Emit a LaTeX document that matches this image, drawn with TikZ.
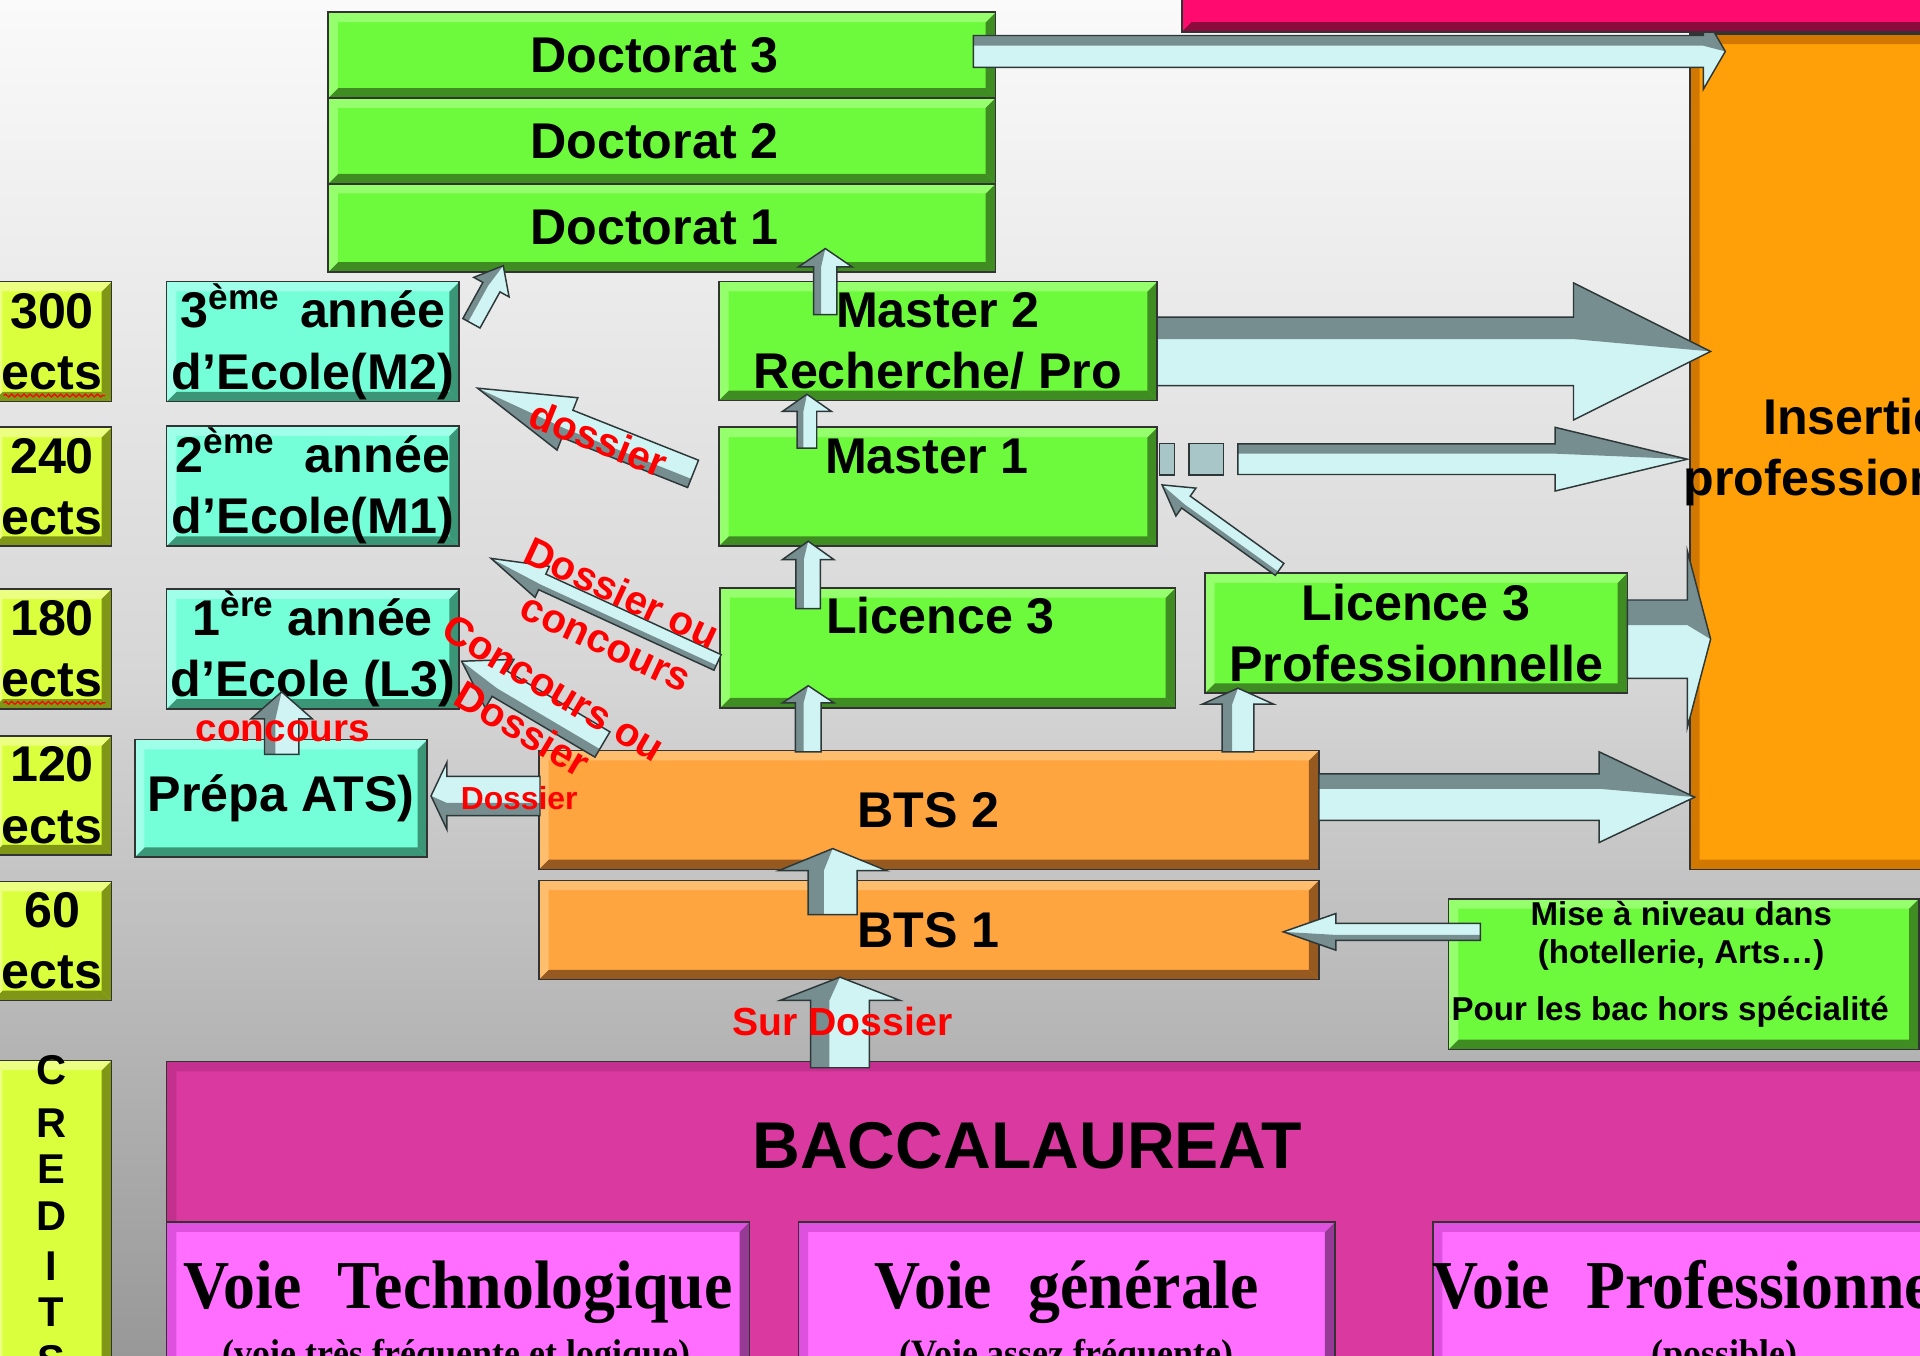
\documentclass[tikz,border=0pt]{standalone}
\usepackage{fontspec}
\setmainfont{Liberation Sans}
\newfontfamily\fser[FakeStretch=0.93]{Liberation Serif}
\usetikzlibrary{calc,decorations.pathmorphing}

\definecolor{bgtop}{RGB}{250,250,250}
\definecolor{bgmid}{RGB}{214,214,214}
\definecolor{bgbot}{RGB}{152,152,152}
\definecolor{gface}{RGB}{110,250,60}
\definecolor{glight}{RGB}{150,255,110}
\definecolor{gdark}{RGB}{62,140,34}
\definecolor{cface}{RGB}{116,255,216}
\definecolor{clight}{RGB}{160,255,232}
\definecolor{cdark}{RGB}{58,150,118}
\definecolor{yface}{RGB}{218,255,60}
\definecolor{ylight}{RGB}{236,255,130}
\definecolor{ydark}{RGB}{128,150,22}
\definecolor{oface}{RGB}{255,165,64}
\definecolor{olight}{RGB}{255,190,110}
\definecolor{odark}{RGB}{150,90,32}
\definecolor{iface}{RGB}{255,160,8}
\definecolor{idark}{RGB}{210,120,0}
\definecolor{mface}{RGB}{218,58,160}
\definecolor{mleft}{RGB}{195,48,142}
\definecolor{mdark}{RGB}{160,36,118}
\definecolor{pface}{RGB}{255,110,255}
\definecolor{pleft}{RGB}{222,80,222}
\definecolor{pdark}{RGB}{150,58,150}
\definecolor{tface}{RGB}{255,10,110}
\definecolor{tdark}{RGB}{140,10,60}
\definecolor{alight}{RGB}{208,244,244}
\definecolor{adark}{RGB}{118,142,144}
\definecolor{aline}{RGB}{45,55,56}
\definecolor{redt}{RGB}{255,0,0}

\tikzset{
  bev/.style n args={3}{rectangle, fill=#1, draw=black!80, line width=0.7pt,
    inner sep=0pt, outer sep=0pt, align=center,
    path picture={
      \path (path picture bounding box.south west) coordinate (pSW)
            (path picture bounding box.north east) coordinate (pNE)
            (path picture bounding box.north west) coordinate (pNW)
            (path picture bounding box.south east) coordinate (pSE);
      \fill[#3] (pSW) -- (pSE) -- ($(pSE)+(-4pt,4pt)$) -- ($(pSW)+(4pt,4pt)$) -- cycle;
      \fill[#3] (pSE) -- (pNE) -- ($(pNE)+(-4pt,-4pt)$) -- ($(pSE)+(-4pt,4pt)$) -- cycle;
      \fill[#2] (pNW) -- (pNE) -- ($(pNE)+(-4pt,-4pt)$) -- ($(pNW)+(4pt,-4pt)$) -- cycle;
      \fill[#2] (pSW) -- (pNW) -- ($(pNW)+(4pt,-4pt)$) -- ($(pSW)+(4pt,4pt)$) -- cycle;
    }},
  bigfont/.style={font=\bfseries\fontsize{20.5}{25}\selectfont},
  boxG/.style={bev={gface}{glight}{gdark}, bigfont},
  boxC/.style={bev={cface}{clight}{cdark}, bigfont},
  boxY/.style={bev={yface}{ylight}{ydark}, bigfont},
  boxO/.style={bev={oface}{olight}{odark}, bigfont},
  boxI/.style={bev={iface}{idark}{idark}, bigfont},
  boxM/.style={bev={mface}{mleft}{mdark}},
  boxP/.style={bev={pface}{pleft}{pdark}},
  boxT/.style={bev={tface}{tface}{tdark}},
  txt/.style={inner sep=0pt, align=center, bigfont},
  redlbl/.style={inner sep=0pt, text=redt, font=\bfseries\fontsize{16.5}{18}\selectfont},
  misetxt/.style={inner sep=0pt, font=\bfseries\fontsize{13.5}{15}\selectfont},
  voie/.style={inner sep=0pt, anchor=base, font=\fser\bfseries\fontsize{28}{30}\selectfont},
  voiesub/.style={inner sep=0pt, anchor=base, font=\fser\bfseries\fontsize{15.8}{17}\selectfont},
  squig/.style={redt, line width=0.5pt, decorate, decoration={snake, amplitude=0.6pt, segment length=2.5pt}},
}

\newcommand{\boxat}[7]{%
  \pgfmathsetmacro{\bxc}{(#3+#5)/2}%
  \pgfmathsetmacro{\byc}{(#4+#6)/2}%
  \pgfmathsetmacro{\bwd}{(#5-#3)*0.5}%
  \pgfmathsetmacro{\bht}{(#6-#4)*0.5}%
  \node[#2, minimum width=\bwd pt, minimum height=\bht pt] (#1) at (\bxc,\byc) {#7};%
}

% \barrow{name}{tail}{tip}{shaft width px}{head width px}{head length px}
\newcommand{\barrow}[6]{%
  \coordinate (#1-t) at #2;%
  \coordinate (#1-h) at #3;%
  \pgfmathsetlengthmacro{\baw}{#4*0.25}%
  \pgfmathsetlengthmacro{\bai}{#4*0.09}%
  \pgfmathsetlengthmacro{\bahw}{#5*0.25}%
  \pgfmathsetlengthmacro{\bal}{#6*0.5}%
  \coordinate (#1-b) at ($(#1-h)!\bal!(#1-t)$);%
  \fill[alight] ($(#1-t)!\baw!90:(#1-h)$) -- ($(#1-b)!\baw!90:(#1-h)$) -- ($(#1-b)!\bahw!90:(#1-h)$) -- (#1-h) -- ($(#1-b)!\bahw!-90:(#1-h)$) -- ($(#1-b)!\baw!-90:(#1-h)$) -- ($(#1-t)!\baw!-90:(#1-h)$) -- cycle;%
  \fill[adark] ($(#1-t)!\baw!90:(#1-h)$) -- ($(#1-b)!\baw!90:(#1-h)$) -- ($(#1-b)!\bahw!90:(#1-h)$) -- (#1-h) -- ($(#1-b)!\bai!90:(#1-h)$) -- ($(#1-t)!\bai!90:(#1-h)$) -- cycle;%
  \draw[aline, line width=0.6pt, line join=miter] ($(#1-t)!\baw!90:(#1-h)$) -- ($(#1-b)!\baw!90:(#1-h)$) -- ($(#1-b)!\bahw!90:(#1-h)$) -- (#1-h) -- ($(#1-b)!\bahw!-90:(#1-h)$) -- ($(#1-b)!\baw!-90:(#1-h)$) -- ($(#1-t)!\baw!-90:(#1-h)$) -- cycle;%
}

\begin{document}
\begin{tikzpicture}[x=0.5pt,y=-0.5pt]
\useasboundingbox (0,0) rectangle (1568,1107);
\clip (0,0) rectangle (1568,1107);
\fill[top color=bgtop, bottom color=bgbot, middle color=bgmid] (0,0) rectangle (1568,1107);

% --- boxes ---
\boxat{dr3}{boxG}{268}{10}{813}{80}{Doctorat 3\hspace*{6pt}}
\boxat{dr2}{boxG}{268}{80}{813}{150}{Doctorat 2\hspace*{6pt}}
\boxat{dr1}{boxG}{268}{150}{813}{222}{Doctorat 1\hspace*{6pt}}
\boxat{m2}{boxG}{587}{230}{945}{327}{Master 2\\Recherche/ Pro}
\boxat{m1}{boxG}{587}{349}{945}{446}{}
\boxat{l3}{boxG}{588}{480}{960}{578}{}
\boxat{l3p}{boxG}{984}{468}{1329}{566}{Licence 3\\Professionnelle}
\boxat{bts2}{boxO}{440}{613}{1077}{710}{BTS 2}
\boxat{bts1}{boxO}{440}{719}{1077}{800}{BTS 1}
\boxat{ins}{boxI}{1380}{28}{1600}{710}{}
\boxat{e300}{boxY}{-6}{230}{91}{328}{300\\ects}
\boxat{e240}{boxY}{-6}{349}{91}{446}{240\\ects}
\boxat{e180}{boxY}{-6}{481}{91}{579}{180\\ects}
\boxat{e120}{boxY}{-6}{601}{91}{698}{120\\ects}
\boxat{e60}{boxY}{-6}{720}{91}{817}{60\\ects}
\boxat{cred}{boxY}{-6}{866}{91}{1130}{}
\boxat{s3}{boxC}{136}{230}{375}{328}{\makebox[108pt]{3\textsuperscript{ème}\hfill année}\\d’Ecole(M2)}
\boxat{s2}{boxC}{136}{348}{375}{446}{\makebox[112pt]{2\textsuperscript{ème}\hfill année}\\d’Ecole(M1)}
\boxat{s1}{boxC}{136}{481}{375}{579}{\makebox[98pt]{1\textsuperscript{ère}\hfill année}\\d’Ecole (L3)}
\boxat{ats}{boxC}{110}{604}{349}{700}{Prépa ATS)}
\boxat{mise}{boxG}{1183}{734}{1567}{857}{}
\boxat{bac}{boxM}{136}{867}{1600}{1130}{}
\boxat{vt}{boxP}{136}{998}{612}{1130}{}
\boxat{vg}{boxP}{652}{998}{1090}{1130}{}
\boxat{vp}{boxP}{1170}{998}{1650}{1130}{}

% --- spellcheck squiggles ---
\draw[squig] (3,323) -- (86,323);
\draw[squig] (3,574) -- (86,574);

% --- block arrows ---
\barrow{a1}{($(dr3.east)+(-18,-3)$)}{($(ins.north west)+(29,14)$)}{26}{62}{18}
\barrow{a2}{($(m2.east)+(0,8.5)$)}{($(ins.west)+(17,-82)$)}{56}{112}{112}
\barrow{a3}{($(m1.east)+(66,-22.5)$)}{($(ins.west)+(-2,6)$)}{25}{52}{108}
\barrow{a4}{($(l3p.east)+(0,5)$)}{($(ins.west)+(17,153)$)}{64}{144}{19}
\barrow{a5}{($(bts2.east)+(0,-10.5)$)}{($(ins.west)+(4,282)$)}{38}{74}{78}
\barrow{a6}{($(m2.north)+(-92,27)$)}{($(dr1.south)+(133.5,-19)$)}{19}{44}{15}
\barrow{a7}{($(m1.north)+(-107,17)$)}{($(m2.south)+(-107,-5)$)}{16}{40}{14}
\barrow{a8}{($(l3.north)+(-114,17)$)}{($(m1.south)+(-106,-4)$)}{20}{42}{15}
\barrow{a9}{($(bts2.north)+(-98.5,1)$)}{($(l3.south)+(-114,-18)$)}{21}{42}{14}
\barrow{a10}{($(bts2.north)+(252.5,1)$)}{($(l3p.south)+(-145.5,-4)$)}{26}{58}{13}
\barrow{a11}{($(bts1.north)+(-78.5,28)$)}{($(bts2.south)+(-78.5,-17)$)}{40}{88}{18}
\barrow{a12}{($(bac.north)+(-182,5)$)}{($(bts1.south)+(-72.5,-2)$)}{48}{98}{19}
\barrow{a13}{($(l3p.north)+(-111.5,-3)$)}{($(m1.east)+(4,-1.5)$)}{12}{28}{24}
\barrow{a14}{($(m1.west)+(-21,-10.5)$)}{($(s3.east)+(15,38)$)}{24}{46}{79}
\barrow{a15}{($(l3.west)+(-2,12)$)}{($(s1.east)+(26,-74)$)}{14}{28}{46}
\barrow{a16}{($(bts2.north west)+(52,-5)$)}{($(s1.east)+(2,10)$)}{24}{46}{36}
\barrow{a17}{($(ats.north)+(0.5,12)$)}{($(s1.south)+(-25.5,-14)$)}{28}{50}{22}
\barrow{a18}{($(bts2.west)+(1,-11.5)$)}{($(ats.east)+(3,-2)$)}{32}{55}{13}
\barrow{a19}{($(s3.east)+(10,-15)$)}{($(dr1.south west)+(143,-5)$)}{16}{33}{20}
\barrow{a20}{($(mise.west)+(26,-34.5)$)}{($(bts1.east)+(-29,1.5)$)}{14}{30}{43}

% dashed start of the Master 1 arrow
\filldraw[fill=adark!45!alight, draw=aline, line width=0.6pt] (947,362) rectangle (959,388);
\filldraw[fill=adark!45!alight, draw=aline, line width=0.6pt] (971,362) rectangle (999,388);

% top bar
\boxat{tb}{boxT}{965}{-10}{1600}{26}{}

% --- texts ---
\node[txt] (m1txt) at (757,373) {Master 1};
\node[txt] (l3txt) at (768,503) {Licence 3};
\node[txt] (instxt) at (1526.5,369) {Insertion\\professionnelle};
\node[misetxt] (mise1) at (1373,746) {Mise à niveau dans};
\node[misetxt] (mise2) at (1373,780) {(hotellerie, Arts…)};
\node[misetxt] (mise3) at (1364,826) {Pour les bac hors spécialité};
\foreach \lt/\yy in {C/874,R/917,E/955,D/993,I/1034,T/1072,S/1111}
  {\node[inner sep=0pt, font=\bfseries\fontsize{17}{17}\selectfont] (cr\lt) at (42,\yy) {\lt};}
\node[inner sep=0pt, anchor=base, font=\bfseries\fontsize{27}{30}\selectfont] (bactxt) at (839,954) {BACCALAUREAT};
\node[voie] (vttxt) at (374,1068.5) {Voie\hspace{0.3em} Technologique};
\node[voie] (vgtxt) at (871,1068.5) {Voie\hspace{0.3em} générale};
\node[voie] (vptxt) at (1400,1068.5) {Voie\hspace{0.3em} Professionnelle};
\node[voiesub] (vtsub) at (373,1116) {(voie très fréquente et logique)};
\node[voiesub] (vgsub) at (871,1116) {(Voie assez fréquente)};
\node[voiesub] (vpsub) at (1408,1116) {(possible)};

% red labels
\node[redlbl, rotate=-21.7] (ldos) at (489,358) {dossier};
\node[redlbl, rotate=-25] (ldc1) at (508,484) {Dossier ou};
\node[redlbl, rotate=-25] (ldc2) at (494,527) {concours};
\node[redlbl, rotate=-30.6] (lcd1) at (452,562) {Concours ou};
\node[redlbl, rotate=-30.6] (lcd2) at (427,595) {Dossier};
\node[redlbl, font=\bfseries\fontsize{15.8}{17}\selectfont] (lconc) at (231,597) {concours};
\node[redlbl, font=\bfseries\fontsize{13}{15}\selectfont] (ldossier) at (424,651.5) {Dossier};
\node[redlbl, font=\bfseries\fontsize{16}{18}\selectfont] (lsur) at (688,834) {Sur Dossier};
\end{tikzpicture}
\end{document}
